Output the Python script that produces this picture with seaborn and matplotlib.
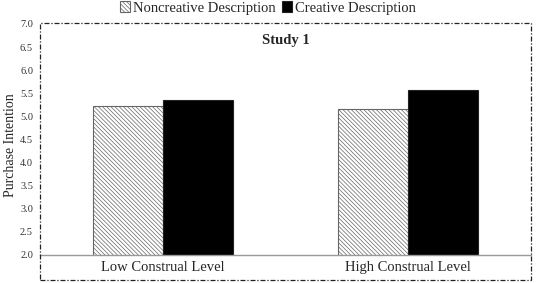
import matplotlib
matplotlib.use("Agg")
import matplotlib.pyplot as plt
import seaborn as sns
import pandas as pd
from matplotlib.patches import Rectangle

categories = ["Low Construal Level", "High Construal Level"]
series_names = ["Noncreative Description", "Creative Description"]
noncreative = [5.22, 5.15]
creative = [5.36, 5.58]
yticks = [2.0, 2.5, 3.0, 3.5, 4.0, 4.5, 5.0, 5.5, 6.0, 6.5, 7.0]

df = pd.DataFrame({
    "Level": categories * 2,
    "Description": [series_names[0]] * 2 + [series_names[1]] * 2,
    "Value": noncreative + creative,
})

sns.set_theme(style="white")
plt.rcParams["font.family"] = ["Liberation Serif", "DejaVu Serif"]
plt.rcParams["hatch.linewidth"] = 0.5

W, H = 536, 283
fig = plt.figure(figsize=(W / 100, H / 100), dpi=100)
ax = fig.add_axes([40 / W, 1 - 255 / H, (531 - 40) / W, (255 - 24) / H])

sns.barplot(data=df, x="Level", y="Value", hue="Description",
            palette=["white", "black"], width=0.57, ax=ax,
            edgecolor="#222222", linewidth=0.8, legend=False, errorbar=None)

for p in ax.containers[0]:
    p.set_hatch("\\\\\\\\\\\\\\\\")
    p.set_edgecolor("#666666")

ax.set_ylim(2.0, 7.0)
ax.set_xlim(-0.5, 1.5)
ax.set_yticks(yticks)
ax.set_yticklabels([f"{t:.1f}" for t in yticks], fontsize=7.5, color="#333333")
ax.tick_params(axis="y", length=0, pad=5)
ax.tick_params(axis="x", length=0, pad=4, labelsize=10.5)
ax.set_xlabel("")
ax.set_ylabel("")
for s in ["left", "right", "top"]:
    ax.spines[s].set_visible(False)
ax.spines["bottom"].set_color("#999999")
ax.spines["bottom"].set_linewidth(1.0)
ax.set_facecolor("none")

fig.text(11 / W, 1 - 145 / H, "Purchase Intention", rotation=90, ha="center",
         va="center", fontsize=10)

ax.text(0.5, 0.93, "Study 1", transform=ax.transAxes, ha="center", va="center",
        fontsize=10.5, fontweight="bold")

# dash-dot chart border
border = Rectangle((40 / W, 1 - 280 / H), (531 - 40) / W, (280 - 23) / H,
                   transform=fig.transFigure, fill=False, edgecolor="#222222",
                   linewidth=0.9, linestyle=(0, (4, 1.5, 1, 1.5)))
fig.patches.append(border)

handles = [ax.containers[0][0], ax.containers[1][0]]
fig.legend(handles, series_names, loc="center", bbox_to_anchor=(0.5, 1 - 8 / H),
           ncol=2, frameon=False, fontsize=10.5, handlelength=0.7, handleheight=0.7,
           handletextpad=0.2, columnspacing=0.4, borderaxespad=0)

fig.savefig("out.png", dpi=100)
